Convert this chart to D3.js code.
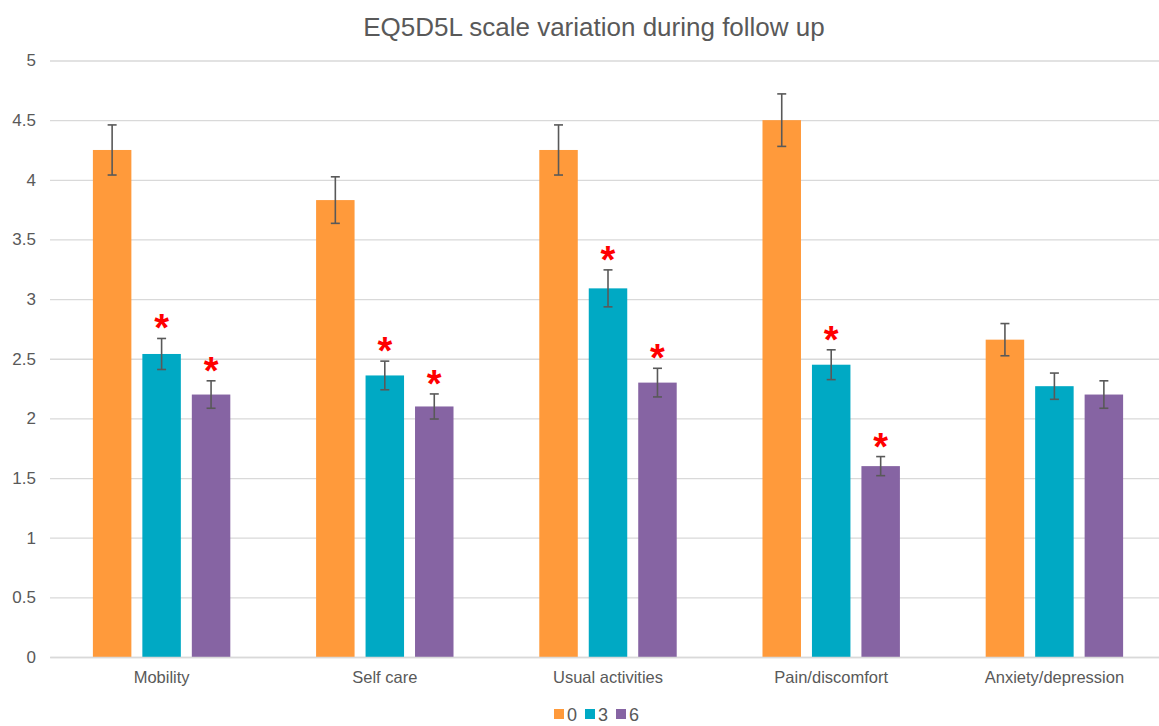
<!DOCTYPE html>
<html>
<head>
<meta charset="utf-8">
<script src="https://cdn.jsdelivr.net/npm/d3@7"></script>
<style>
  body { margin: 0; background: #fff; }
  text { font-family: "Liberation Sans", Arial, Helvetica, sans-serif; fill: #595959; }
  .grid line { stroke: #d9d9d9; stroke-width: 1.3; }
  .grid path { display: none; }
</style>
</head>
<body>
<svg id="chart" width="1159" height="726"></svg>
<script>
// data
var categories = ["Mobility", "Self care", "Usual activities", "Pain/discomfort", "Anxiety/depression"];
var seriesNames = ["0", "3", "6"];
var month0 = [4.25, 3.83, 4.25, 4.50, 2.66];
var month3 = [2.54, 2.36, 3.09, 2.45, 2.27];
var month6 = [2.20, 2.10, 2.30, 1.60, 2.20];
var err0 = [0.21, 0.195, 0.21, 0.22, 0.135];
var err3 = [0.13, 0.12, 0.155, 0.125, 0.11];
var err6 = [0.115, 0.105, 0.12, 0.08, 0.115];
var sig3 = [true, true, true, true, false];
var sig6 = [true, true, true, true, false];
var yTicks = [0, 0.5, 1, 1.5, 2, 2.5, 3, 3.5, 4, 4.5, 5];
var colors = ["#FF9A3B", "#00A9C4", "#8664A3"];

var values = [month0, month3, month6];
var errors = [err0, err3, err6];
var sigs = [null, sig3, sig6];

var svg = d3.select("#chart");
var margin = { left: 50, right: -7, top: 60, bottom: 69 };
var W = 1159, H = 726;

var x0 = d3.scaleBand().domain(categories).range([margin.left, W - margin.right]).padding(0);
var x1 = d3.scaleBand().domain(seriesNames).range([0, x0.bandwidth()])
  .paddingInner(0.222).paddingOuter(0.867);
var y = d3.scaleLinear().domain([0, 5]).range([H - margin.bottom, margin.top + 0.5]);

// title
svg.append("text")
  .attr("x", 594).attr("y", 36)
  .attr("text-anchor", "middle")
  .style("font-size", "26px")
  .text("EQ5D5L scale variation during follow up");

// gridlines
svg.append("g")
  .attr("class", "grid")
  .attr("transform", "translate(" + margin.left + ",0)")
  .call(d3.axisLeft(y).tickValues(yTicks).tickSize(-(W - margin.left)).tickFormat(""));

// y labels
var yAxis = svg.append("g")
  .attr("transform", "translate(" + margin.left + ",0)")
  .call(d3.axisLeft(y).tickValues(yTicks).tickSize(0).tickPadding(14).tickFormat(d3.format("")));
yAxis.select(".domain").remove();
yAxis.selectAll("text").style("font-size", "17px").style("fill", "#595959");

// bars
var rows = [];
categories.forEach(function(c, i) {
  seriesNames.forEach(function(s, j) {
    rows.push({ cat: c, s: s, j: j, v: values[j][i], e: errors[j][i], sig: sigs[j] ? sigs[j][i] : false });
  });
});

var bars = svg.append("g");
bars.selectAll("rect").data(rows).enter().append("rect")
  .attr("x", function(d) { return x0(d.cat) + x1(d.s); })
  .attr("y", function(d) { return y(d.v); })
  .attr("width", x1.bandwidth())
  .attr("height", function(d) { return y(0) - y(d.v); })
  .attr("fill", function(d) { return colors[d.j]; });

// x axis
var xAxis = svg.append("g")
  .attr("transform", "translate(0," + y(0) + ")")
  .call(d3.axisBottom(x0).tickSize(0).tickPadding(14));
xAxis.select(".domain").attr("stroke", "#d9d9d9").attr("stroke-width", 1.3);
xAxis.selectAll("text").style("font-size", "16.5px").style("fill", "#595959");

// error bars
var eb = svg.append("g").attr("stroke", "#595959").attr("stroke-width", 1.6);
rows.forEach(function(d) {
  var cx = x0(d.cat) + x1(d.s) + x1.bandwidth() / 2;
  eb.append("line").attr("x1", cx).attr("x2", cx).attr("y1", y(d.v + d.e)).attr("y2", y(d.v - d.e));
  eb.append("line").attr("x1", cx - 4.5).attr("x2", cx + 4.5).attr("y1", y(d.v + d.e)).attr("y2", y(d.v + d.e));
  eb.append("line").attr("x1", cx - 4.5).attr("x2", cx + 4.5).attr("y1", y(d.v - d.e)).attr("y2", y(d.v - d.e));
});

// significance stars
svg.append("g").selectAll("text").data(rows.filter(function(d) { return d.sig; })).enter().append("text")
  .attr("x", function(d) { return x0(d.cat) + x1(d.s) + x1.bandwidth() / 2; })
  .attr("y", function(d) { return y(d.v + d.e) + 3; })
  .attr("text-anchor", "middle")
  .style("font-size", "38px")
  .style("font-weight", "bold")
  .style("fill", "#FF0000")
  .text("*");

// legend
var legend = svg.append("g");
var lx = [554, 585, 616];
seriesNames.forEach(function(s, j) {
  legend.append("rect").attr("x", lx[j]).attr("y", 709).attr("width", 10).attr("height", 10).attr("fill", colors[j]);
  legend.append("text").attr("x", lx[j] + 13).attr("y", 721).style("font-size", "18px").text(s);
});
</script>
</body>
</html>
